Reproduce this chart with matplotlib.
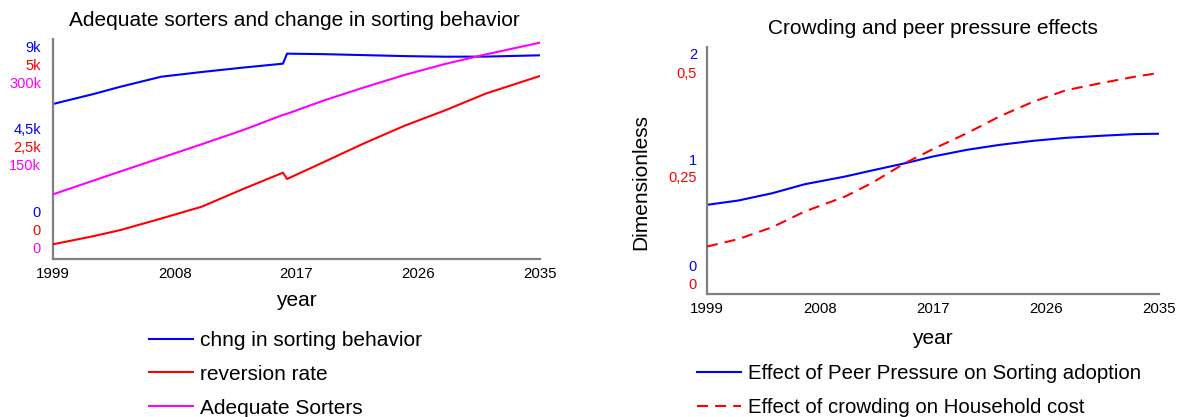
import matplotlib
matplotlib.use('Agg')
import matplotlib.pyplot as plt
from matplotlib.transforms import ScaledTranslation

plt.rcParams['font.family'] = ['Liberation Sans', 'DejaVu Sans']

# left panel: sorting behaviour
left_years = [1999, 2002, 2004, 2007, 2010, 2013, 2016, 2016.3, 2019, 2022, 2025, 2028, 2031, 2035]
chng_sorting = [6341, 6750, 7049, 7457, 7650, 7827, 7990, 8400, 8380, 8340, 8300, 8275, 8280, 8332]
reversion_rate = [334, 520, 659, 920, 1189, 1584, 1962, 1818, 2200, 2629, 3030, 3380, 3760, 4159]
adequate_sorters = [88200, 107000, 119500, 138000, 156500, 175500, 196400, 198000, 216000, 234000,
                    251000, 266000, 279000, 295000]

# right panel: crowding and peer pressure
right_years = [1999, 2001.5, 2004.2, 2006.8, 2010.0, 2012.1, 2014.8, 2017.0, 2019.7, 2022.3,
               2025.0, 2027.6, 2030.3, 2033.0, 2035]
peer_effect = [0.721, 0.756, 0.815, 0.888, 0.950, 0.998, 1.058, 1.112, 1.166, 1.206,
               1.239, 1.263, 1.279, 1.293, 1.296]
crowd_effect = [0.0958, 0.111, 0.135, 0.167, 0.197, 0.224, 0.265, 0.293, 0.325, 0.359,
                0.389, 0.412, 0.426, 0.439, 0.447]

x_ticks = [1999, 2008, 2017, 2026, 2035]

BLUE, RED, MAGENTA = '#0000ff', '#ff0000', '#ff00ff'
GREY = '#808080'
FS = 15

fig = plt.figure(figsize=(11.81, 4.17), dpi=100)


def style_axis(ax):
    ax.set_xlim(1999, 2035)
    ax.set_xticks(x_ticks)
    ax.set_xticklabels([str(t) for t in x_ticks])
    ax.tick_params(axis='x', length=0, labelsize=10.8, pad=6)
    ax.set_yticks([])
    for s in ['top', 'right']:
        ax.spines[s].set_visible(False)
    for s in ['left', 'bottom']:
        ax.spines[s].set_color(GREY)
        ax.spines[s].set_linewidth(1.6)


def twin(ax):
    t = ax.twinx()
    t.set_axis_off()
    return t


def stacked_labels(ax, ticks, texts, shifts_px, color, x):
    # value labels on the left edge, nudged so the series don't overlap
    for v, s, dy in zip(ticks, texts, shifts_px):
        tr = ax.get_yaxis_transform() + ScaledTranslation(0, -dy / 100, fig.dpi_scale_trans)
        ax.text(x, v, s, transform=tr, color=color, ha='right', va='center',
                fontsize=10.5, clip_on=False)


def px(x, y):
    return x / 1181, 1 - y / 417


# ---- left
ax1 = fig.add_axes([0.0449, 0.3789, 0.4123, 0.5276])
style_axis(ax1)
ax1.set_ylim(0, 9000)
ax1b = twin(ax1)
ax1b.set_ylim(0, 5000)
ax1c = twin(ax1)
ax1c.set_ylim(0, 300000)

l1, = ax1.plot(left_years, chng_sorting, color=BLUE, lw=1.5)
l2, = ax1b.plot(left_years, reversion_rate, color=RED, lw=1.5)
l3, = ax1c.plot(left_years, adequate_sorters, color=MAGENTA, lw=1.5)

fig.text(*px(294, 20), 'Adequate sorters and change in sorting behavior', fontsize=FS,
         ha='center', va='center')
fig.text(*px(296, 300), 'year', fontsize=FS, ha='center', va='center')

stacked_labels(ax1, [0, 4500, 9000], ['0', '4,5k', '9k'], [-46, -19, 9], BLUE, -0.0246)
stacked_labels(ax1b, [0, 2500, 5000], ['0', '2,5k', '5k'], [-28, -1, 27], RED, -0.0246)
stacked_labels(ax1c, [0, 150000, 300000], ['0', '150k', '300k'], [-10, 17, 45], MAGENTA, -0.0246)

fig.legend([l1, l2, l3], ['chng in sorting behavior', 'reversion rate', 'Adequate Sorters'],
           loc='upper left', bbox_to_anchor=px(149, 331), bbox_transform=fig.transFigure,
           frameon=False, fontsize=FS, handlelength=2.1, handletextpad=0.34, labelspacing=0.71,
           borderpad=0, borderaxespad=0)

# ---- right
ax2 = fig.add_axes([0.5986, 0.295, 0.3828, 0.593])
style_axis(ax2)
ax2.set_ylim(0, 2)
ax2b = twin(ax2)
ax2b.set_ylim(0, 0.5)

r1, = ax2.plot(right_years, peer_effect, color=BLUE, lw=1.5)
r2, = ax2b.plot(right_years, crowd_effect, color=RED, lw=1.5, linestyle=(0, (5.3, 3.4)))

fig.text(*px(933, 28), 'Crowding and peer pressure effects', fontsize=FS, ha='center', va='center')
fig.text(*px(932, 338), 'year', fontsize=FS, ha='center', va='center')
fig.text(*px(641, 182), 'Dimensionless', fontsize=FS, ha='center', va='center', rotation=90)

stacked_labels(ax2, [0, 1, 2], ['0', '1', '2'], [-27, -9, 8], BLUE, -0.022)
stacked_labels(ax2b, [0, 0.25, 0.5], ['0', '0,25', '0,5'], [-9, 8, 27], RED, -0.022)

fig.legend([r1, r2], ['Effect of Peer Pressure on Sorting adoption', 'Effect of crowding on Household cost'],
           loc='upper left', bbox_to_anchor=px(697, 364), bbox_transform=fig.transFigure,
           frameon=False, fontsize=FS - 0.3, handlelength=2.15, handletextpad=0.34, labelspacing=0.74,
           borderpad=0, borderaxespad=0)

fig.savefig('out.png', dpi=100)
